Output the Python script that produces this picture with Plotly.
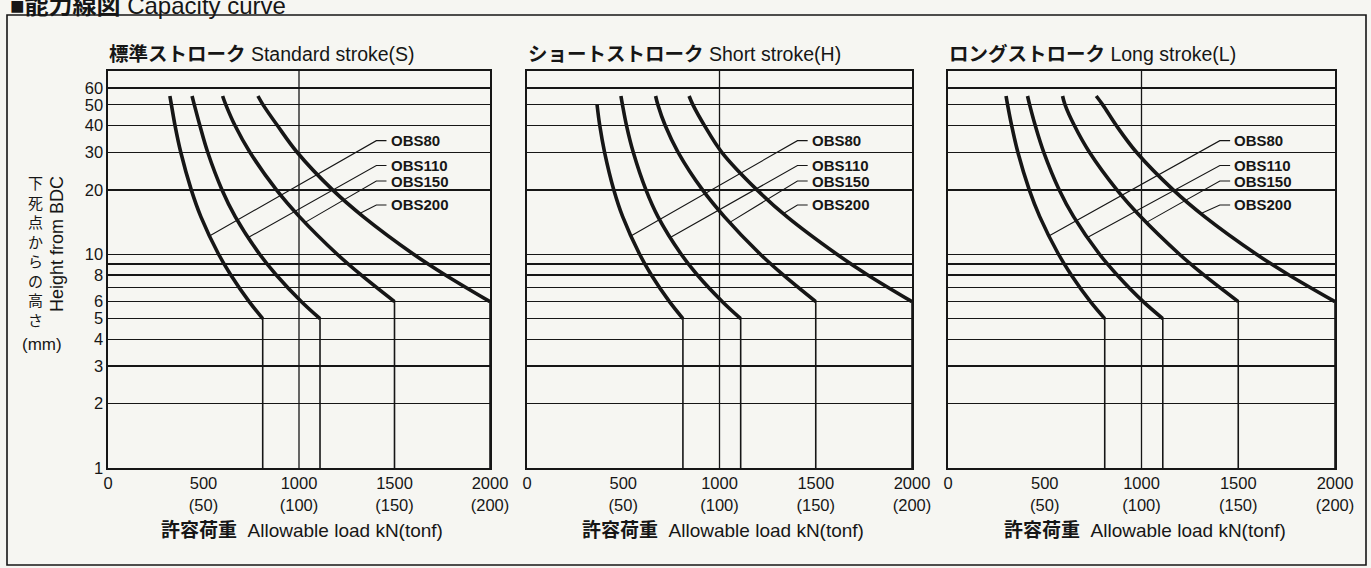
import numpy as np
import plotly.graph_objects as go

W, H = 1371, 568
FONT = "Liberation Sans, Arial, Noto Sans CJK JP, sans-serif"
INK = "#161616"
BG = "#f6f6f2"

# ---------------- data ----------------
MODELS = ["OBS80", "OBS110", "OBS150", "OBS200"]
RATED_LOAD = [810, 1110, 1500, 2000]      # kN, vertical cut-off of each curve
KNEE_HEIGHT = [5, 5, 6, 6]                # mm, where the curve turns vertical

H_G1 = [55, 50, 40, 30, 20, 15, 10, 8, 6, 5]
H_G2 = [55, 50, 40, 30, 20, 15, 10, 8, 6]
H_SHORT80 = [50, 40, 30, 20, 15, 10, 8, 6, 5]

# Standard stroke (S)
S_OBS80 = [324, 332, 351, 381, 436, 486, 579, 643, 739, 810]
S_OBS110 = [440, 452, 481, 522, 597, 666, 794, 881, 1013, 1110]
S_OBS150 = [600, 617, 665, 743, 882, 1002, 1200, 1325, 1500]
S_OBS200 = [785, 812, 887, 990, 1176, 1336, 1600, 1766, 2000]
# Short stroke (H)
H_OBS80 = [364, 378, 403, 451, 497, 585, 646, 740, 810]
H_OBS110 = [488, 496, 517, 552, 618, 680, 801, 885, 1015, 1110]
H_OBS150 = [668, 680, 718, 785, 912, 1025, 1212, 1331, 1500]
H_OBS200 = [842, 862, 922, 1012, 1195, 1350, 1610, 1770, 2000]
# Long stroke (L)
L_OBS80 = [300, 308, 329, 361, 420, 474, 571, 637, 736, 810]
L_OBS110 = [411, 422, 451, 495, 575, 649, 783, 874, 1009, 1110]
L_OBS150 = [592, 605, 653, 731, 873, 995, 1196, 1322, 1500]
L_OBS200 = [766, 800, 870, 974, 1164, 1326, 1594, 1762, 2000]

PANEL_TITLES_JP = ["標準ストローク", "ショートストローク", "ロングストローク"]
PANEL_TITLES_EN = ["Standard stroke(S)", "Short stroke(H)", "Long stroke(L)"]

X_TICKS = [0, 500, 1000, 1500, 2000]
X_TICKTEXT = ["0", "500<br>(50)", "1000<br>(100)", "1500<br>(150)", "2000<br>(200)"]
Y_TICKS = [1, 2, 3, 4, 5, 6, 7, 8, 9, 10, 20, 30, 40, 50, 60]
Y_TICKTEXT = ["1", "2", "3", "4", "5", "6", "", "8", "", "10", "20", "30", "40", "50", "60"]
Y_MAX = 72

LABEL_H = [34, 26, 22, 17]          # label row heights (mm)
LEADER_END_H = [12.2, 12.0, 14.1, 15.5]
ELBOW_LOAD, STUB_LOAD, LABEL_LOAD = 1405, 1458, 1470

X_LABEL = "<b>許容荷重</b>  Allowable load kN(tonf)"

panels = [
    ([S_OBS80, S_OBS110, S_OBS150, S_OBS200], [H_G1, H_G1, H_G2, H_G2]),
    ([H_OBS80, H_OBS110, H_OBS150, H_OBS200], [H_SHORT80, H_G1, H_G2, H_G2]),
    ([L_OBS80, L_OBS110, L_OBS150, L_OBS200], [H_G1, H_G1, H_G2, H_G2]),
]

# ---------------- layout geometry (pixels) ----------------
PX_X = [(108, 490), (527, 912), (948, 1335)]
PY_TOP, PY_BOT = 71, 468

def px(x):
    return x / W

def py(y):
    return 1 - y / H

fig = go.Figure()
annotations = []
shapes = []

for i, (loads, heights) in enumerate(panels):
    n = "" if i == 0 else str(i + 1)
    xa, ya = "x" + n, "y" + n
    for m in range(4):
        fig.add_trace(go.Scatter(x=loads[m], y=heights[m], mode="lines",
                                 line=dict(color=INK, width=3.6, shape="spline", smoothing=1.0),
                                 xaxis=xa, yaxis=ya, hoverinfo="skip", showlegend=False))
        fig.add_trace(go.Scatter(x=[RATED_LOAD[m], RATED_LOAD[m]], y=[KNEE_HEIGHT[m], 1],
                                 mode="lines", line=dict(color=INK, width=1.6),
                                 xaxis=xa, yaxis=ya, hoverinfo="skip", showlegend=False))
        # leader line to the curve
        hh = np.log10(heights[m][::-1])
        ll = np.array(loads[m][::-1], dtype=float)
        end_load = float(np.interp(np.log10(LEADER_END_H[m]), hh, ll))
        fig.add_trace(go.Scatter(x=[end_load, ELBOW_LOAD, STUB_LOAD],
                                 y=[LEADER_END_H[m], LABEL_H[m], LABEL_H[m]],
                                 mode="lines", line=dict(color=INK, width=1.1),
                                 xaxis=xa, yaxis=ya, hoverinfo="skip", showlegend=False))
        annotations.append(dict(x=LABEL_LOAD, y=np.log10(LABEL_H[m]), xref=xa, yref=ya,
                                text="<b>" + MODELS[m] + "</b>", showarrow=False,
                                xanchor="left", yanchor="middle",
                                font=dict(family=FONT, size=15, color=INK)))
    # 1000 kN vertical grid line
    shapes.append(dict(type="line", xref=xa, yref=ya + " domain", x0=1000, x1=1000, y0=0, y1=1,
                       line=dict(color=INK, width=1.3), layer="above"))

    x0, x1 = PX_X[i]
    fig.layout["xaxis" + n] = dict(
        domain=[px(x0), px(x1)], range=[0, 2000], anchor=ya,
        tickvals=X_TICKS, ticktext=X_TICKTEXT, showgrid=False, zeroline=False,
        showline=True, mirror=True, linecolor=INK, linewidth=1.6, ticks="",
        tickfont=dict(family=FONT, size=16.5, color=INK), fixedrange=True, automargin=False)
    fig.layout["yaxis" + n] = dict(
        domain=[py(PY_BOT), py(PY_TOP)], type="log", range=[0, np.log10(Y_MAX)], anchor=xa,
        tickvals=Y_TICKS, ticktext=Y_TICKTEXT, showgrid=True, gridcolor=INK, gridwidth=1.2,
        zeroline=False, showline=True, mirror=True, linecolor=INK, linewidth=1.6, ticks="",
        showticklabels=(i == 0), tickfont=dict(family=FONT, size=16.5, color=INK),
        fixedrange=True, automargin=False)

    # panel title
    annotations.append(dict(x=px(x0 - 1), y=py(54), xref="paper", yref="paper",
                            xanchor="left", yanchor="middle", showarrow=False,
                            text="<b>" + PANEL_TITLES_JP[i] + "</b> " + PANEL_TITLES_EN[i],
                            font=dict(family=FONT, size=19.5, color=INK)))
    # x-axis title
    annotations.append(dict(x=px((x0 + x1) / 2 + 3), y=py(530), xref="paper", yref="paper",
                            xanchor="center", yanchor="middle", showarrow=False,
                            text=X_LABEL, font=dict(family=FONT, size=19, color=INK)))

# y-axis title pieces
annotations.append(dict(x=px(35), y=py(251), xref="paper", yref="paper", showarrow=False,
                        xanchor="center", yanchor="middle",
                        text="<br>".join(list("下死点からの高さ")),
                        font=dict(family="Noto Sans CJK JP, sans-serif", size=15, color=INK)))
annotations.append(dict(x=px(57), y=py(244), xref="paper", yref="paper", showarrow=False,
                        xanchor="center", yanchor="middle", textangle=-90,
                        text="Height from BDC", font=dict(family=FONT, size=18, color=INK)))
annotations.append(dict(x=px(42), y=py(344), xref="paper", yref="paper", showarrow=False,
                        xanchor="center", yanchor="middle",
                        text="(mm)", font=dict(family=FONT, size=17, color=INK)))

# page heading (cut by the top edge as in the scan)
annotations.append(dict(x=px(8), y=py(5), xref="paper", yref="paper", showarrow=False,
                        xanchor="left", yanchor="middle",
                        text="■<b>能力線図</b> Capacity curve",
                        font=dict(family=FONT, size=24, color=INK)))

# outer frame
shapes.append(dict(type="rect", xref="paper", yref="paper",
                   x0=px(7), x1=px(1366), y0=py(565), y1=py(15),
                   line=dict(color=INK, width=1.6)))

fig.update_layout(width=W, height=H, autosize=False,
                  margin=dict(l=0, r=0, t=0, b=0),
                  paper_bgcolor=BG, plot_bgcolor=BG,
                  annotations=annotations, shapes=shapes, showlegend=False,
                  font=dict(family=FONT, color=INK))

fig.write_html("out.html", config={"displayModeBar": False, "staticPlot": True},
               post_script="document.body.style.margin='0px';document.body.style.overflow='hidden';")
